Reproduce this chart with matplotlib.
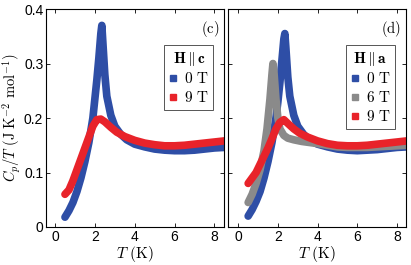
import matplotlib
matplotlib.use('Agg')
import matplotlib.pyplot as plt

plt.rcParams['mathtext.fontset'] = 'cm'
plt.rcParams['font.family'] = ['Liberation Sans', 'DejaVu Sans']

BLUE = '#2e4ea6'
RED = '#e8232a'
GRAY = '#8a8a8a'

# panel (c), H || c
T_c0 = [0.5, 0.7, 0.9, 1.1, 1.3, 1.5, 1.7, 1.9, 2.0, 2.1, 2.2, 2.3, 2.35, 2.4, 2.5,
        2.6, 2.8, 3.0, 3.3, 3.6, 4.0, 4.5, 5.0, 5.5, 6.0, 6.5, 7.0, 7.5, 8.0, 8.5]
C_c0 = [0.018, 0.03, 0.045, 0.065, 0.09, 0.12, 0.155, 0.20, 0.235, 0.27, 0.31, 0.355,
        0.37, 0.34, 0.28, 0.24, 0.205, 0.185, 0.17, 0.16, 0.152, 0.147, 0.143, 0.141,
        0.14, 0.14, 0.141, 0.143, 0.145, 0.146]
T_c9 = [0.5, 0.7, 0.9, 1.1, 1.3, 1.5, 1.7, 1.9, 2.1, 2.3, 2.5, 2.8, 3.1, 3.5, 4.0,
        4.5, 5.0, 5.5, 6.0, 6.5, 7.0, 7.5, 8.0, 8.5]
C_c9 = [0.06, 0.068, 0.085, 0.105, 0.125, 0.145, 0.165, 0.185, 0.197, 0.198, 0.193,
        0.183, 0.174, 0.166, 0.159, 0.154, 0.151, 0.149, 0.149, 0.15, 0.152, 0.154,
        0.156, 0.158]

# panel (d), H || a
T_a0 = [0.5, 0.7, 0.9, 1.1, 1.3, 1.5, 1.7, 1.9, 2.0, 2.1, 2.2, 2.3, 2.35, 2.4, 2.5,
        2.6, 2.8, 3.0, 3.3, 3.6, 4.0, 4.5, 5.0, 5.5, 6.0, 6.5, 7.0, 7.5, 8.0, 8.5]
C_a0 = [0.02, 0.032, 0.047, 0.065, 0.09, 0.12, 0.155, 0.2, 0.23, 0.265, 0.305, 0.345,
        0.355, 0.33, 0.275, 0.24, 0.205, 0.185, 0.17, 0.16, 0.152, 0.147, 0.143, 0.141,
        0.14, 0.141, 0.142, 0.144, 0.146, 0.147]
T_a6 = [0.5, 0.7, 0.9, 1.1, 1.3, 1.45, 1.6, 1.7, 1.75, 1.8, 1.9, 2.0, 2.1, 2.3, 2.5,
        2.8, 3.2, 3.6, 4.0, 4.5, 5.0, 5.5, 6.0, 6.5, 7.0, 7.5, 8.0, 8.5]
C_a6 = [0.045, 0.06, 0.08, 0.105, 0.14, 0.18, 0.235, 0.28, 0.30, 0.285, 0.235, 0.2,
        0.18, 0.168, 0.163, 0.16, 0.157, 0.155, 0.153, 0.15, 0.147, 0.146, 0.146,
        0.146, 0.147, 0.148, 0.149, 0.15]
T_a9 = [0.5, 0.7, 0.9, 1.1, 1.3, 1.5, 1.7, 1.9, 2.1, 2.3, 2.5, 2.8, 3.1, 3.5, 4.0,
        4.5, 5.0, 5.5, 6.0, 6.5, 7.0, 7.5, 8.0, 8.5]
C_a9 = [0.08, 0.09, 0.1, 0.115, 0.13, 0.145, 0.162, 0.18, 0.192, 0.197, 0.19, 0.18,
        0.172, 0.165, 0.158, 0.153, 0.15, 0.149, 0.149, 0.15, 0.152, 0.154, 0.156,
        0.158]

yticks = [0, 0.1, 0.2, 0.3, 0.4]
xticks = [0, 2, 4, 6, 8]


def band(ax, x, y, color, label):
    ax.plot(x, y, '-', color=color, lw=5.5, solid_capstyle='round',
            solid_joinstyle='round')
    ax.plot([], [], 's', color=color, ms=4, label=label)


def style(ax, xlim, panel):
    ax.set_xlim(*xlim)
    ax.set_ylim(0, 0.4)
    ax.set_xticks(xticks)
    ax.set_yticks(yticks)
    ax.tick_params(direction='in', top=True, right=True, length=3, width=0.6,
                   labelsize=10, pad=2)
    for s in ax.spines.values():
        s.set_linewidth(0.8)
    ax.set_xlabel(r'$T\ (\mathrm{K})$', fontsize=11, labelpad=0)
    ax.text(0.97, 0.955, panel, transform=ax.transAxes, ha='right', va='top',
            fontsize=10.5)


fig = plt.figure(figsize=(4.11, 2.65), dpi=100)
ax1 = fig.add_axes([0.112, 0.1434, 0.434, 0.8226])
ax2 = fig.add_axes([0.5555, 0.1434, 0.432, 0.8226])

band(ax1, T_c0, C_c0, BLUE, r'$\mathrm{0\ T}$')
band(ax1, T_c9, C_c9, RED, r'$\mathrm{9\ T}$')
style(ax1, (-0.45, 8.5), r'$\mathrm{(c)}$')
ax1.set_yticklabels(['0', '0.1', '0.2', '0.3', '0.4'])
ax1.set_ylabel(r'$C_p/T\ (\mathrm{J\ K^{-2}\ mol^{-1}})$', fontsize=10.5)
ax1.yaxis.set_label_coords(-0.13, 0.5)

band(ax2, T_a0, C_a0, BLUE, r'$\mathrm{0\ T}$')
band(ax2, T_a6, C_a6, GRAY, r'$\mathrm{6\ T}$')
band(ax2, T_a9, C_a9, RED, r'$\mathrm{9\ T}$')
style(ax2, (-0.5, 8.45), r'$\mathrm{(d)}$')
ax2.set_yticklabels([])

for ax, title in [(ax1, r'$\mathbf{H}\,\Vert\,\mathbf{c}$'),
                  (ax2, r'$\mathbf{H}\,\Vert\,\mathbf{a}$')]:
    leg = ax.legend(title=title, loc='upper right', bbox_to_anchor=(0.98, 0.87),
                    fontsize=11, title_fontsize=11, handlelength=0.6,
                    handletextpad=0.4, borderpad=0.3, labelspacing=0.25,
                    fancybox=False, edgecolor='#555555', framealpha=1)
    leg.get_frame().set_linewidth(0.7)

plt.savefig('out.png', dpi=100)
